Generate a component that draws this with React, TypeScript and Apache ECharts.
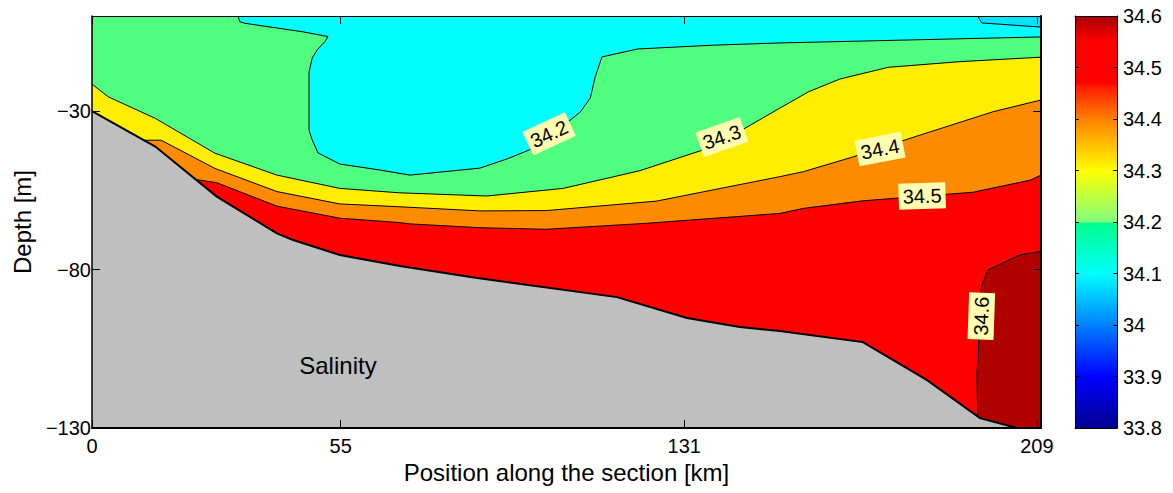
import { useEffect, useRef } from "react";
import * as echarts from "echarts";

// ---- axis ticks ----
const xTicks = [0, 55, 131, 209];
const yTicks = [-130, -80, -30];
const X_MAX = 209.9;
const Y_MIN = -130;
const Y_MAX = 0;
const CB_MIN = 33.8;
const CB_MAX = 34.6;

// ---- bottom topography [position km, depth m] ----
const topography = [
  [0, -30], [14.0, -41.2], [27.6, -57.0], [40.9, -68.6], [44.5, -70.7],
  [54.8, -75.4], [68.1, -78.9], [85.2, -82.7], [116.1, -88.7], [131.6, -95.3],
  [143.3, -98.1], [152.1, -99.4], [170.5, -102.9], [184.7, -114.9],
  [196.4, -126.9], [204.6, -130],
];

// ---- salinity contours [position km, depth m] ----
const contour341 = [[195.9, 0], [196.8, -2.2], [X_MAX, -3.5]];
const contour342 = [
  [32.3, 0], [32.7, -1.8], [33.8, -2.3], [46.7, -5.0], [52.2, -6.5], [51.5, -8.1],
  [49.8, -10.7], [48.7, -13.3], [48.0, -17.7], [48.0, -36.0], [48.7, -39.1],
  [50.0, -43.2], [54.8, -46.7], [63.7, -48.6], [70.3, -50.2], [85.8, -48.0],
  [91.8, -45.1], [98.4, -41.3], [108.0, -30.3], [110.2, -25.9], [111.3, -19.2],
  [112.8, -12.9], [120.7, -10.4], [137.4, -9.2], [152.1, -8.5], [X_MAX, -6.6],
];
const contour343 = [
  [0, -21.5], [3.6, -25.5], [14.0, -32.3], [27.2, -43.3], [40.9, -50.2],
  [54.8, -54.4], [68.1, -55.8], [87.3, -56.8], [104.2, -54.4], [121.2, -48.8],
  [137.4, -41.2], [152.1, -29.1], [158.5, -23.9], [165.4, -19.9], [176.1, -16.2],
  [192.0, -14.4], [X_MAX, -13.0],
];
const contour344 = [
  [11.3, -39.2], [15.3, -39.2], [27.2, -48.1], [40.9, -55.4], [54.8, -59.3],
  [68.1, -60.2], [85.8, -61.5], [100.5, -61.4], [124.9, -58.4], [152.1, -50.7],
  [157.4, -49.1], [168.0, -44.6], [183.1, -37.6], [199.3, -30.2], [X_MAX, -26.5],
];
const contour345 = [
  [23.0, -51.6], [27.6, -52.6], [40.9, -60.0], [54.8, -63.8], [68.1, -65.2],
  [70.3, -65.6], [85.8, -66.8], [100.5, -67.3], [122.7, -65.4], [152.1, -62.3],
  [157.4, -60.7], [170.6, -58.3], [194.9, -55.6], [207.5, -51.8], [X_MAX, -50.2],
];
const contour346 = [
  [195.9, -125.9], [195.7, -112.7], [196.0, -108.5], [196.4, -90.6],
  [196.8, -84.9], [198.2, -80.1], [205.2, -75.4], [209.2, -74.5], [X_MAX, -74.4],
];

// ---- contour labels ----
const labelTexts = ["34.2", "34.3", "34.4", "34.5", "34.6"];
const labelPos = [[101.1, -37.2], [139.3, -38.2], [174.3, -42.0], [183.6, -56.8], [196.7, -94.7]];
const labelRot = [25, 19, 11, 2, 88];
const titleText = "Salinity";
const titlePos = [54.4, -110.4];

// ---- colour bar stops [salinity, colour] ----
const cbarValues = [33.8, 33.9, 34.0, 34.1, 34.2, 34.2, 34.3, 34.4, 34.465, 34.47, 34.55, 34.6];
const cbarColors = ["#000090", "#0000ff", "#0080ff", "#00ffff", "#00ff88", "#80ff80", "#ffff00", "#ff8000", "#ff1800", "#ff0000", "#ff0000", "#a80000"];

const FONT = "'Liberation Sans', Arial, Helvetica, sans-serif";

type Pt = number[];

function layer(name: string, line: Pt[], closing: Pt[], fill: string, lw: number, z: number) {
  return {
    type: "custom",
    name,
    xAxisIndex: 0,
    yAxisIndex: 0,
    z,
    silent: true,
    clip: true,
    data: line,
    encode: { x: 0, y: 1 },
    renderItem: (params: any, api: any) => {
      if (params.dataIndex !== 0) return null;
      const poly = line.concat(closing).map((p) => api.coord(p));
      const ln = line.map((p) => api.coord(p));
      return {
        type: "group",
        children: [
          { type: "polygon", shape: { points: poly }, style: { fill, stroke: null } },
          { type: "polyline", shape: { points: ln }, style: { stroke: "#000", lineWidth: lw, fill: null } },
        ],
      };
    },
  };
}

export default function App() {
  const ref = useRef<HTMLDivElement>(null);
  useEffect(() => {
    if (!ref.current) return;
    const chart = echarts.init(ref.current, null, { renderer: "svg" });
    const minus = (v: number) => String(v).replace("-", "\u2212");

    const segs: number[][] = [];
    for (let i = 0; i < cbarValues.length - 1; i++) segs.push([cbarValues[i], cbarValues[i + 1], i]);

    const labelData = labelTexts.map((t, i) => ({
      value: labelPos[i],
      label: { formatter: t, rotate: labelRot[i] },
    }));

    const option: any = {
      animation: false,
      backgroundColor: "#fff",
      textStyle: { fontFamily: FONT },
      grid: [
        { left: 92, top: 16, width: 949, height: 412, show: true, backgroundColor: "#50ff80", borderWidth: 0 },
        { left: 1075, top: 16, width: 42, height: 412 },
      ],
      xAxis: [
        {
          type: "value", gridIndex: 0, min: 0, max: X_MAX, position: "bottom", z: 10,
          name: "Position along the section [km]", nameLocation: "middle", nameGap: 31,
          nameTextStyle: { fontSize: 24, color: "#000", fontFamily: FONT },
          axisLine: { show: true, onZero: false, lineStyle: { color: "#000", width: 2 } },
          axisTick: { show: true, inside: true, length: 8, customValues: xTicks, lineStyle: { color: "#000" } },
          axisLabel: { show: true, customValues: xTicks, fontSize: 20, color: "#000", margin: 8, fontFamily: FONT },
          splitLine: { show: false },
        },
        {
          type: "value", gridIndex: 0, min: 0, max: X_MAX, position: "top", z: 10,
          axisLine: { show: true, onZero: false, lineStyle: { color: "#000", width: 1 } },
          axisTick: { show: true, inside: true, length: 8, customValues: xTicks, lineStyle: { color: "#000" } },
          axisLabel: { show: false },
          splitLine: { show: false },
        },
        {
          type: "value", gridIndex: 1, min: 0, max: 1, position: "bottom", z: 10,
          axisLine: { show: true, onZero: false, lineStyle: { color: "#000", width: 1 } },
          axisTick: { show: false }, axisLabel: { show: false }, splitLine: { show: false },
        },
        {
          type: "value", gridIndex: 1, min: 0, max: 1, position: "top", z: 10,
          axisLine: { show: true, onZero: false, lineStyle: { color: "#000", width: 1 } },
          axisTick: { show: false }, axisLabel: { show: false }, splitLine: { show: false },
        },
      ],
      yAxis: [
        {
          type: "value", gridIndex: 0, min: Y_MIN, max: Y_MAX, position: "left", z: 10,
          name: "Depth [m]", nameLocation: "middle", nameGap: 58,
          nameTextStyle: { fontSize: 24, color: "#000", fontFamily: FONT },
          axisLine: { show: true, onZero: false, lineStyle: { color: "#000", width: 1.5 } },
          axisTick: { show: true, inside: true, length: 8, customValues: yTicks, lineStyle: { color: "#000" } },
          axisLabel: { show: true, customValues: yTicks, fontSize: 20, color: "#000", margin: 1, formatter: minus, fontFamily: FONT },
          splitLine: { show: false },
        },
        {
          type: "value", gridIndex: 0, min: Y_MIN, max: Y_MAX, position: "right", z: 10,
          axisLine: { show: true, onZero: false, lineStyle: { color: "#000", width: 2 } },
          axisTick: { show: true, inside: true, length: 8, customValues: yTicks, lineStyle: { color: "#000" } },
          axisLabel: { show: false },
          splitLine: { show: false },
        },
        {
          type: "value", gridIndex: 1, min: CB_MIN, max: CB_MAX, interval: 0.1, position: "right", z: 10,
          axisLine: { show: true, onZero: false, lineStyle: { color: "#000", width: 1 } },
          axisTick: { show: true, inside: true, length: 4, lineStyle: { color: "#000" } },
          axisLabel: { show: true, fontSize: 20, color: "#000", margin: 6, fontFamily: FONT },
          splitLine: { show: false },
        },
        {
          type: "value", gridIndex: 1, min: CB_MIN, max: CB_MAX, interval: 0.1, position: "left", z: 10,
          axisLine: { show: true, onZero: false, lineStyle: { color: "#000", width: 1 } },
          axisTick: { show: true, inside: true, length: 4, lineStyle: { color: "#000" } },
          axisLabel: { show: false },
          splitLine: { show: false },
        },
      ],
      series: [
        layer("34.3", contour343, [[X_MAX, Y_MIN], [0, Y_MIN]], "#ffee00", 1, 2),
        layer("34.4", contour344, [[X_MAX, Y_MIN], [contour344[0][0], Y_MIN]], "#ff8c00", 1, 2),
        layer("34.5", contour345, [[X_MAX, Y_MIN], [contour345[0][0], Y_MIN]], "#ff0000", 1, 2),
        layer("34.2", contour342, [[X_MAX, Y_MAX]], "#00ffff", 1, 2),
        layer("34.1", contour341, [[X_MAX, Y_MAX]], "#00e4ff", 1, 2),
        layer("34.6", contour346, [[X_MAX, Y_MIN], [contour346[0][0], Y_MIN]], "#b00000", 1, 2),
        layer("bottom", topography, [[0, Y_MIN]], "#bfbfbf", 2, 3),
        {
          type: "scatter",
          xAxisIndex: 0,
          yAxisIndex: 0,
          z: 6,
          silent: true,
          symbolSize: 1,
          itemStyle: { color: "rgba(0,0,0,0)", opacity: 1 },
          label: {
            show: true, position: "inside", fontSize: 20, color: "#000", fontFamily: FONT, opacity: 1,
            backgroundColor: "#ffffb0", padding: [4, 4, 2, 4], textBorderWidth: 0,
          },
          data: labelData,
        },
        {
          type: "scatter",
          xAxisIndex: 0,
          yAxisIndex: 0,
          z: 6,
          silent: true,
          symbolSize: 1,
          itemStyle: { color: "rgba(0,0,0,0)", opacity: 1 },
          label: {
            show: true, position: "inside", fontSize: 24, color: "#000", fontFamily: FONT,
            formatter: titleText, opacity: 1, textBorderWidth: 0,
          },
          data: [titlePos],
        },
        {
          type: "custom",
          xAxisIndex: 2,
          yAxisIndex: 2,
          silent: true,
          data: segs,
          encode: { y: [0, 1] },
          renderItem: (params: any, api: any) => {
            const s = segs[params.dataIndex];
            if (s[1] <= s[0]) return null;
            const a = api.coord([0, s[1]]);
            const b = api.coord([1, s[0]]);
            return {
              type: "rect",
              shape: { x: a[0], y: a[1], width: b[0] - a[0], height: b[1] - a[1] + 0.5 },
              style: {
                fill: new echarts.graphic.LinearGradient(0, 0, 0, 1, [
                  { offset: 0, color: cbarColors[s[2] + 1] },
                  { offset: 1, color: cbarColors[s[2]] },
                ]),
              },
            };
          },
        },
      ],
    };
    chart.setOption(option);
    return () => chart.dispose();
  }, []);
  return (
    <div
      ref={ref}
      style={{ position: "fixed", left: 0, top: 0, width: 1173, height: 493, background: "#fff" }}
    />
  );
}
